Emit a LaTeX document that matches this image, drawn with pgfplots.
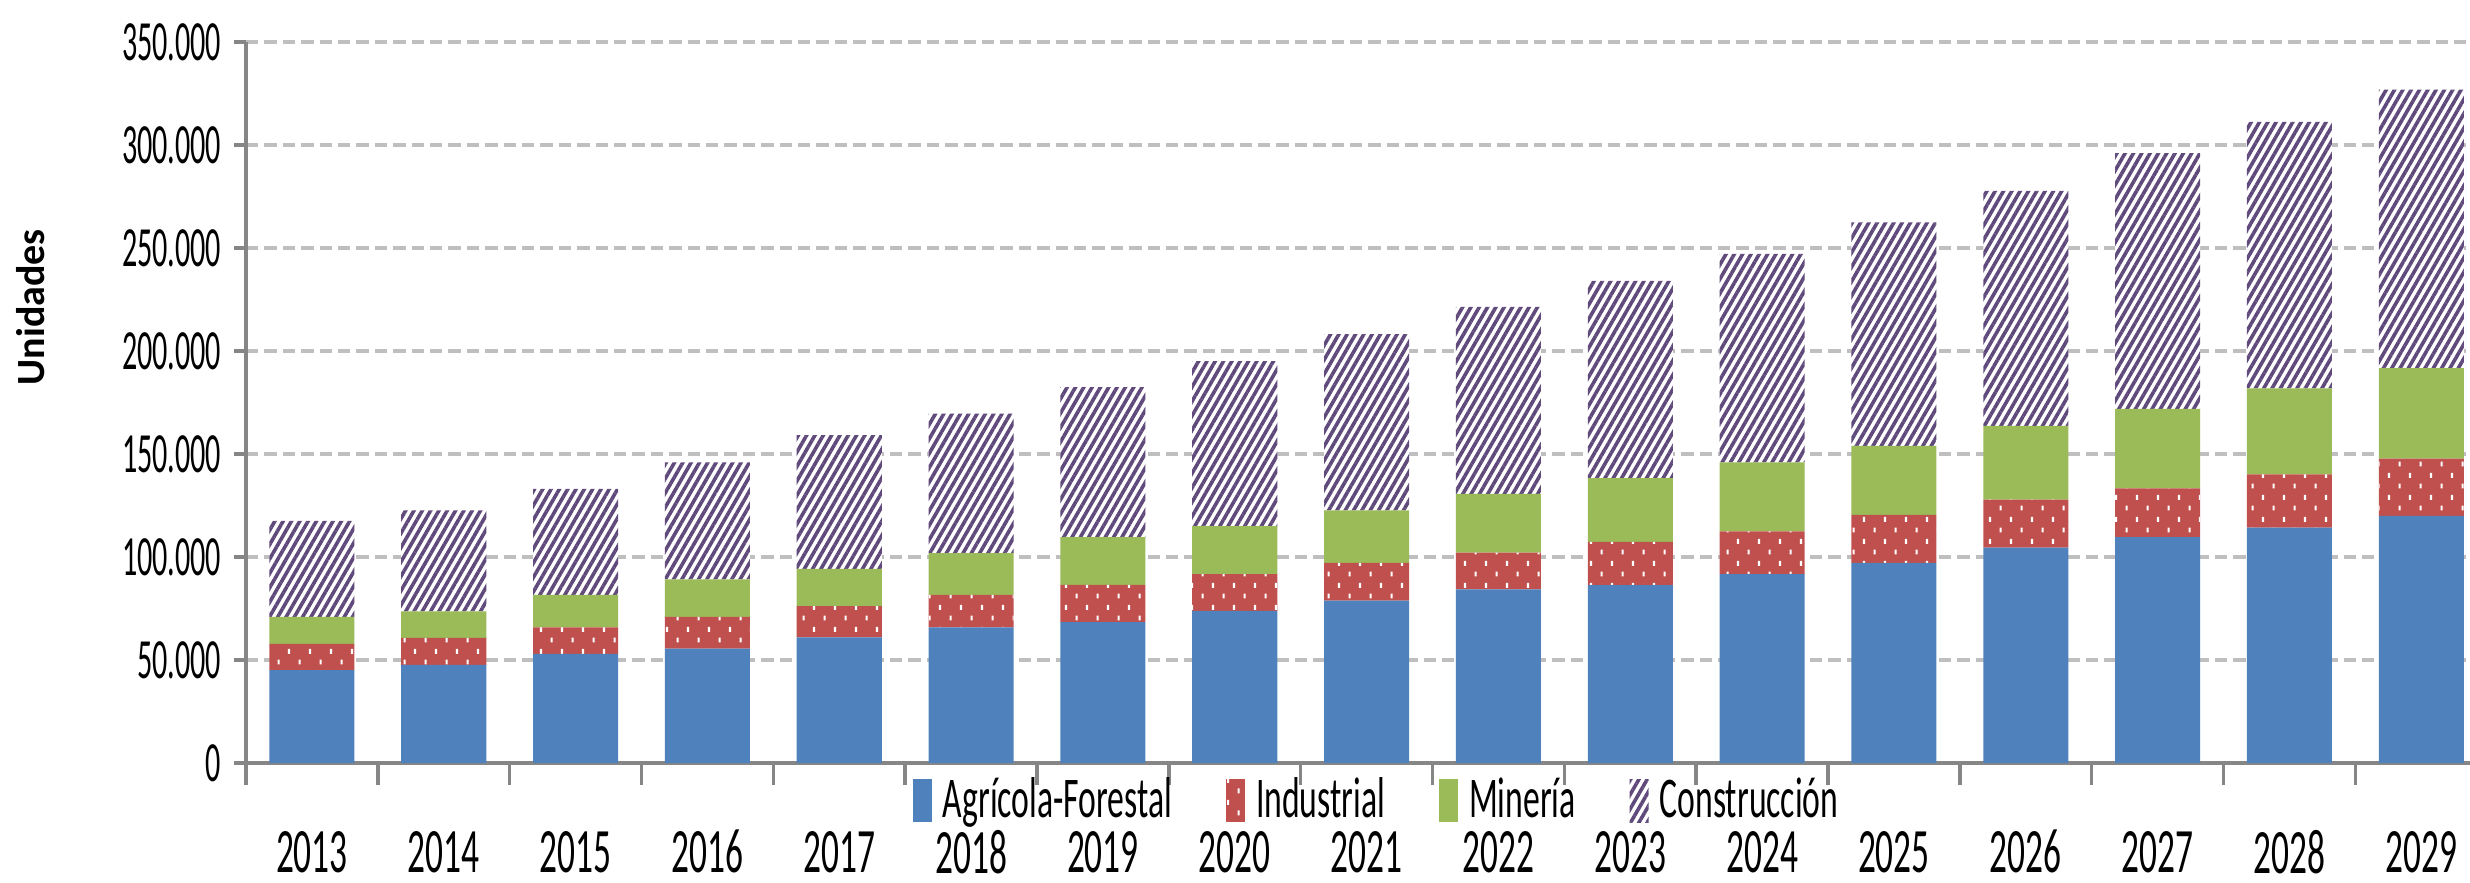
\documentclass[border=0pt]{standalone}
\usepackage{fontspec}
\setmainfont{Carlito}
\newfontfamily\narrowfont[FakeStretch=0.56]{Carlito}
\newfontfamily\legfont[FakeStretch=0.585]{Carlito}
\newfontfamily\ynarrowfont[FakeStretch=0.53]{Carlito}
\usepackage{pgfplots}
\usepackage{pgfplotstable}
\pgfplotsset{compat=1.18}
\usetikzlibrary{patterns.meta}
\definecolor{cblue}{RGB}{79,129,189}
\definecolor{cred}{RGB}{192,80,77}
\definecolor{cgreen}{RGB}{155,187,89}
\definecolor{cpurple}{RGB}{96,74,123}
\definecolor{axgray}{RGB}{134,134,134}
\definecolor{gridgray}{RGB}{191,191,191}
\tikzdeclarepattern{
  name=whitedots,
  type=uncolored,
  bottom left={(0pt,0pt)},
  top right={(5.33pt,5.4pt)},
  tile size={(5.33pt,5.4pt)},
  code={
    \pgfpathrectangle{\pgfpoint{0.4pt}{0.4pt}}{\pgfpoint{0.55pt}{1.25pt}}
    \pgfpathrectangle{\pgfpoint{3.07pt}{3.1pt}}{\pgfpoint{0.55pt}{1.25pt}}
    \pgfusepath{fill}
  }
}
\pgfplotstableread{
x agr ind min con
0 45100 12700 13100 46600
1 47600 13100 12900 49100
2 53000 12900 15700 51500
3 55500 15400 18300 56800
4 61000 15100 18100 65000
5 65900 15700 20300 67700
6 68400 18100 23100 72900
7 73900 17800 23300 80100
8 78800 18400 25500 85500
9 84300 17800 28500 90800
10 86300 21000 31000 95700
11 91700 20800 33500 101200
12 97200 23300 33400 108600
13 104500 23300 35900 114000
14 109600 23700 38600 124100
15 114300 25800 41800 129300
16 120000 27800 43900 135200
}\datatable
\pgfplotsset{mylegend/.style={legend image code/.code={\fill[##1] (0pt,-5.4pt) rectangle (4.75pt,5.4pt);}}}
\begin{document}
\begin{tikzpicture}
\path[use as bounding box] (0,0) rectangle (617.5pt,220.5pt);
\begin{axis}[
  at={(61.5pt,29.75pt)}, anchor=south west,
  scale only axis, width=556pt, height=180.25pt,
  xmin=-0.5, xmax=16.37, ymin=0, ymax=350000,
  scaled y ticks=false,
  ybar stacked, bar width=21.25pt,
  axis x line*=bottom, axis y line*=left,
  axis line style={draw=axgray, line width=0.85pt, -},
  tick align=outside,
  major tick length=3pt, minor tick length=5.5pt,
  ytick={0,50000,100000,150000,200000,250000,300000,350000},
  yticklabels={0,50.000,100.000,150.000,200.000,250.000,300.000,350.000},
  ytick style={draw=axgray, line width=0.85pt},
  ymajorgrids,
  major grid style={draw=gridgray, line width=0.9pt, dash pattern=on 3.1pt off 1.5pt},
  xtick={0,...,16},
  xticklabels={2013,2014,2015,2016,2017,2018,2019,2020,2021,2022,2023,2024,2025,2026,2027,2028,2029},
  xtick style={draw=none},
  minor xtick={-0.5,0.5,...,16.5},
  minor x tick style={draw=axgray, line width=0.85pt},
  yticklabel style={font=\ynarrowfont\fontsize{14.2}{15}\selectfont, anchor=east, inner sep=0pt, xshift=-3pt},
  xticklabel style={font=\narrowfont\fontsize{15.8}{16}\selectfont, anchor=center, inner sep=0pt, yshift=-19.2pt},
  ylabel={Unidades},
  ylabel style={font=\bfseries\fontsize{10}{12}\selectfont, at={(axis description cs:-0.0967,0.632)}, anchor=center},
  legend style={at={(axis description cs:0.2995,0)}, anchor=north west, yshift=-3.5pt, draw=none, fill=none, inner sep=0pt,
    font=\legfont\fontsize{14.4}{16}\selectfont, nodes={inner sep=0pt},
    /tikz/every odd column/.append style={column sep=2.75pt},
    /tikz/every even column/.append style={column sep=13.5pt}},
  legend columns=4,
  legend cell align=left,
]
\addplot[fill=cblue, draw=none, mylegend] table[x=x,y=agr]{\datatable};
\addplot[fill=cred, draw=none, postaction={pattern=whitedots, pattern color=white}, mylegend] table[x=x,y=ind]{\datatable};
\addplot[fill=cgreen, draw=none, mylegend] table[x=x,y=min]{\datatable};
\addplot[fill=white, draw=none, postaction={pattern={Lines[angle=60,distance=1.8pt,line width=0.9pt]}, pattern color=cpurple}, mylegend] table[x=x,y=con]{\datatable};
\legend{Agrícola-Forestal,Industrial,Minería,Construcción}
\end{axis}
\end{tikzpicture}
\end{document}
